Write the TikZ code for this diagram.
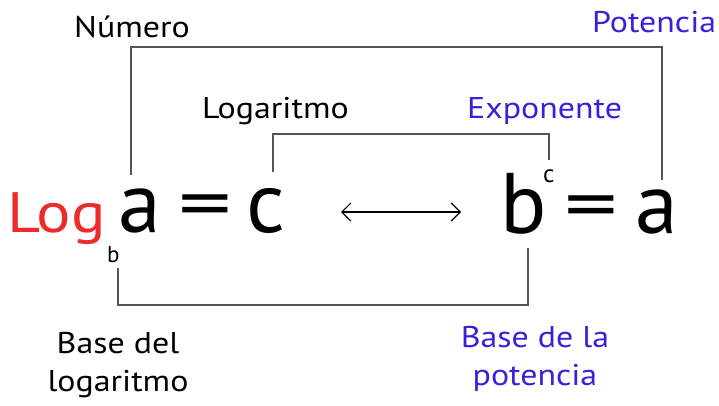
\documentclass[tikz,border=0pt]{standalone}
\usepackage{fontspec}
\setmainfont{PT Sans}
\newfontfamily\lblfont{PT Sans}[FakeStretch=1.13]
\newfontfamily\eqfont{PT Sans}[FakeStretch=1.4]
\usetikzlibrary{arrows.meta}
\definecolor{myred}{HTML}{EE2B2B}
\definecolor{myblue}{HTML}{3B1FD9}
\definecolor{lncol}{HTML}{555555}
\begin{document}
\begin{tikzpicture}[x=1pt,y=-1pt,
  lbl/.style={inner sep=0pt, anchor=base west, font=\lblfont\fontsize{30}{38}\selectfont},
  lbl2/.style={inner sep=0pt, anchor=north, align=center, font=\lblfont\fontsize{30}{38}\selectfont},
  big/.style={inner sep=0pt, anchor=base west, font=\fontsize{86}{90}\selectfont},
  bigeq/.style={inner sep=0pt, anchor=base, font=\eqfont\fontsize{76}{80}\selectfont},
  ln/.style={draw=lncol, line width=1.5pt}]
\useasboundingbox (0,0) rectangle (719,405);
% labels
\node[lbl] (numero) at (74,37) {Número};
\node[lbl, text=myblue] (potencia) at (592,32) {Potencia};
\node[lbl] (logaritmo) at (202,118) {Logaritmo};
\node[lbl, text=myblue] (exponente) at (467,118) {Exponente};
\node[lbl2] (basedel) at (118,332) {Base del\\logaritmo};
\node[lbl2, text=myblue] (basepot) at (535,326) {Base de la\\potencia};
% left formula
\node[inner sep=0pt, anchor=base west, font=\lblfont\fontsize{57}{60}\selectfont, text=myred] (log) at (7,232) {Log};
\node[inner sep=0pt, anchor=base west, font=\fontsize{23}{26}\selectfont] (subb) at (107,262) {b};
\node[big] (la) at (118,232) {a};
\node[bigeq] (eq1) at (205.5,229) {=};
\node[big] (lc) at (246,232) {c};
% arrow
\coordinate (arL) at (341,212);
\coordinate (arR) at (461,212);
\draw[line width=1.1pt, {Straight Barb[length=9pt,width=18pt]}-{Straight Barb[length=9pt,width=18pt]}] (arL) -- (arR);
% right formula
\node[big] (rb) at (500,233) {b};
\node[inner sep=0pt, anchor=base west, font=\fontsize{25}{28}\selectfont] (supc) at (543,182) {c};
\node[bigeq] (eq2) at (591.5,230) {=};
\node[big] (ra) at (635,233) {a};
% brackets
\coordinate (n1) at (131,175);
\coordinate (n2) at (662,180);
\draw[ln] (n1) -- (131,47) -| (n2);
\coordinate (l1) at (273,172);
\coordinate (l2) at (549,160);
\draw[ln] (l1) -- (273,134) -| (l2);
\coordinate (b1) at (118,268);
\coordinate (b2) at (528,248);
\draw[ln] (b1) -- (118,305) -| (b2);
\end{tikzpicture}
\end{document}
